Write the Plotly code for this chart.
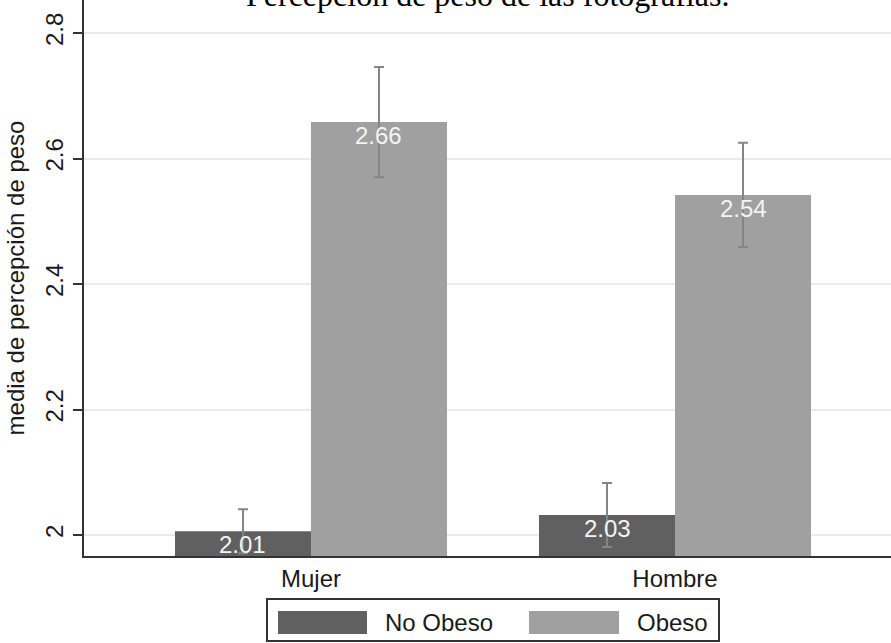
import plotly.graph_objects as go

# Mean weight-perception scores with 95% CI half-widths, by sex and photo type
sexes = ["Mujer", "Hombre"]
no_obeso = [2.006, 2.032]
no_obeso_ci = [0.035, 0.051]
obeso = [2.658, 2.542]
obeso_ci = [0.088, 0.083]
series_names = ["No Obeso", "Obeso"]
y_ticks = [2.0, 2.2, 2.4, 2.6, 2.8]
y_tick_text = ["2", "2.2", "2.4", "2.6", "2.8"]

DARK = "#606060"
LIGHT = "#a0a0a0"
ERR = "#858585"
FONT = "Liberation Sans, Arial, sans-serif"

W, H = 891, 643
ML, MR, MT, MB = 84, 0, 0, 87
PW, PH = W - ML - MR, H - MT - MB


def px(x):
    return (x - ML) / PW


def py(y):
    return (H - MB - y) / PH


fig = go.Figure()
for name, vals, ci, col in [
    (series_names[0], no_obeso, no_obeso_ci, DARK),
    (series_names[1], obeso, obeso_ci, LIGHT),
]:
    fig.add_trace(go.Bar(
        x=sexes, y=vals, name=name, marker=dict(color=col, line=dict(width=0)),
        error_y=dict(type="data", array=ci, visible=True, color=ERR,
                     thickness=2, width=5),
        showlegend=False,
    ))

# value labels at the top inside each bar
for vals, shift in [(no_obeso, -68), (obeso, 68)]:
    for cat, v in zip(sexes, vals):
        fig.add_annotation(
            x=cat, y=v, xref="x", yref="y", text=f"{v:.2f}", showarrow=False,
            xshift=shift, yanchor="top", yshift=2,
            font=dict(family=FONT, size=24, color="#f4f4f4"),
        )

# title
fig.add_annotation(
    x=0.5, y=1, xref="paper", yref="paper", yanchor="bottom", yshift=-15,
    text="Percepción de peso de las fotografías.", showarrow=False,
    font=dict(family="Liberation Serif, Times New Roman, serif", size=32, color="#000000"),
)

# legend box with wide swatches
shapes = [dict(type="rect", xref="paper", yref="paper",
               x0=px(267), x1=px(719), y0=py(599), y1=py(641),
               line=dict(color="#333333", width=2), fillcolor="white")]
for (sx0, sx1, tx, col, label) in [
    (278, 367, 383, DARK, series_names[0]),
    (529, 619, 635, LIGHT, series_names[1]),
]:
    shapes.append(dict(type="rect", xref="paper", yref="paper",
                       x0=px(sx0), x1=px(sx1), y0=py(611), y1=py(634),
                       line=dict(width=0), fillcolor=col))
    fig.add_annotation(
        x=px(tx), y=py(622.5), xref="paper", yref="paper", xanchor="left",
        yanchor="middle", text=label, showarrow=False,
        font=dict(family=FONT, size=24, color="#1a1a1a"),
    )

fig.update_layout(
    width=W, height=H, margin=dict(l=ML, r=MR, t=MT, b=MB),
    paper_bgcolor="white", plot_bgcolor="white",
    barmode="group", bargap=0.2527, bargroupgap=0,
    shapes=shapes,
    font=dict(family=FONT, size=24, color="#1a1a1a"),
    xaxis=dict(
        range=[-0.6236, 1.5934], showline=True, linecolor="#333333", linewidth=2,
        ticks="", showgrid=False, zeroline=False,
        tickfont=dict(family=FONT, size=24, color="#1a1a1a"),
    ),
    yaxis=dict(
        range=[1.96653, 2.85259], tickvals=y_ticks, ticktext=y_tick_text,
        tickangle=-90, ticks="outside", ticklen=9, tickwidth=2, tickcolor="#333333",
        showline=True, linecolor="#333333", linewidth=2,
        showgrid=True, gridcolor="#ebebeb", gridwidth=2, zeroline=False,
        tickfont=dict(family=FONT, size=24, color="#1a1a1a"),
        title=dict(text="media de percepción de peso",
                   font=dict(family=FONT, size=24, color="#1a1a1a"), standoff=10),
    ),
)

fig.write_html("out.html")
